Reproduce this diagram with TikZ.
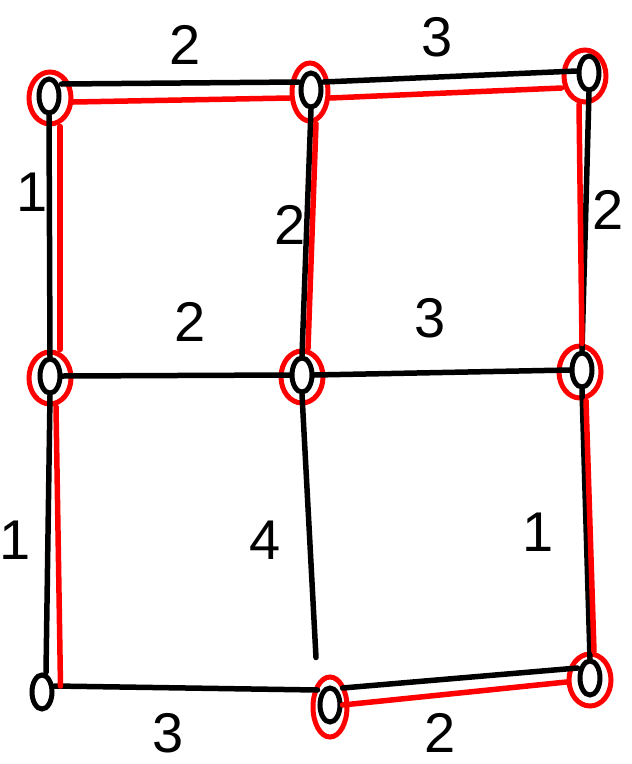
\documentclass[tikz,border=0pt]{standalone}
\usepackage{fontspec}
\setmainfont{Liberation Sans}
\usetikzlibrary{shapes.geometric}
\begin{document}
\begin{tikzpicture}[x=1pt,y=-1pt,
  bnode/.style={ellipse,draw=black,line width=5pt,minimum width=20pt,minimum height=34pt,inner sep=0pt},
  rnode/.style={ellipse,draw=red,line width=5pt,minimum width=42pt,minimum height=52pt,inner sep=0pt},
  bedge/.style={draw=black,line width=5.5pt,line cap=round},
  redge/.style={draw=red,line width=5.5pt,line cap=round},
  lab/.style={font=\fontsize{56}{56}\selectfont,inner sep=0pt}]
\useasboundingbox (0,0) rectangle (632,764);
% black nodes
\node[bnode] (TL) at (49,96) {};
\node[bnode] (TM) at (311,90) {};
\node[bnode] (TR) at (589,73) {};
\node[bnode] (ML) at (50,376) {};
\node[bnode] (MM) at (302,375) {};
\node[bnode] (MR) at (582,370) {};
\node[bnode] (BL) at (42,692) {};
\node[bnode] (BM) at (330,705) {};
\node[bnode] (BR) at (590,678) {};
% red nodes
\node[rnode] (TLr) at (50,98) {};
\node[rnode, minimum width=36pt, minimum height=58pt] (TMr) at (310,92) {};
\node[rnode] (TRr) at (585,76) {};
\node[rnode] (MLr) at (50,378) {};
\node[rnode] (MMr) at (302,377) {};
\node[rnode] (MRr) at (580,372) {};
\node[rnode, minimum width=34pt, minimum height=60pt] (BMr) at (330,707) {};
\node[rnode] (BRr) at (590,680) {};
% black edges
\path[bedge] ([yshift=12]TL.east) -- ([yshift=8]TM.west);
\path[bedge] ([yshift=8]TM.east) -- ([yshift=2]TR.west);
\path[bedge] (ML.east) -- (MM.west);
\path[bedge] (MM.east) -- (MR.west);
\path[bedge] ([yshift=6]BL.east) -- ([yshift=15]BM.west);
\path[bedge] ([yshift=17]BM.east) -- ([yshift=10]BR.west);
\path[bedge] (TL.south) -- (ML.north);
\path[bedge] (ML.south) -- ([xshift=4]BL.north);
\path[bedge] (TM.south) -- (MM.north);
\path[bedge] (MM.south) -- ([xshift=-14,yshift=28]BM.north);
\path[bedge] (TR.south) -- (MR.north);
\path[bedge] (MR.south) -- (BR.north);
% red edges (spanning tree)
\path[redge] ([yshift=-4]TLr.east) -- ([yshift=-6]TMr.west);
\path[redge] ([yshift=-6]TMr.east) -- ([yshift=-12]TRr.west);
\path[redge] ([xshift=10]TLr.south) -- ([xshift=10]MLr.north);
\path[redge] ([xshift=6]MLr.south) -- ([xshift=6,yshift=6]BL.east);
\path[redge] ([xshift=6]TMr.south) -- ([xshift=6]MMr.north);
\path[redge] ([xshift=-6]TRr.south) -- ([xshift=2]MRr.north);
\path[redge] ([xshift=6]MRr.south) -- ([xshift=4]BRr.north);
\path[redge] (BM.east) -- ([yshift=-2]BRr.west);
% labels
\node[lab] (l1) at (185,45) {2};
\node[lab] (l2) at (437,37) {3};
\node[lab] (l3) at (32,192) {1};
\node[lab] (l4) at (290,225) {2};
\node[lab] (l5) at (608,210) {2};
\node[lab] (l6) at (190,322) {2};
\node[lab] (l7) at (430,318) {3};
\node[lab] (l8) at (15,540) {1};
\node[lab] (l9) at (265,540) {4};
\node[lab] (l10) at (538,532) {1};
\node[lab] (l11) at (168,733) {3};
\node[lab] (l12) at (440,733) {2};
\end{tikzpicture}
\end{document}
